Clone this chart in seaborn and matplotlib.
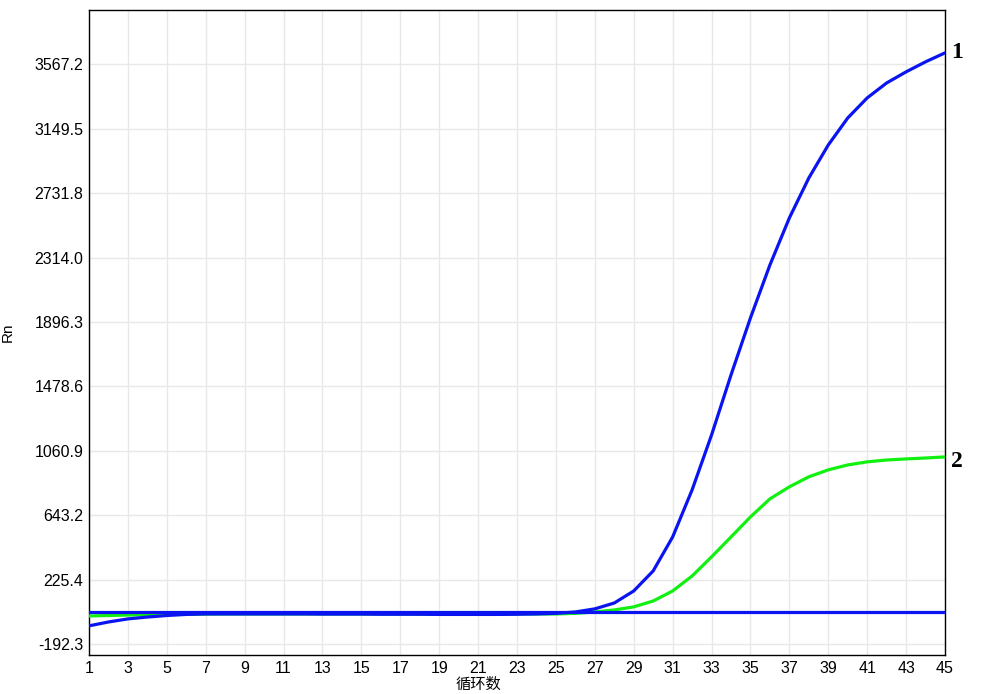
import pandas as pd
import matplotlib.pyplot as plt
import seaborn as sns

# cycles 1..45
cycles = list(range(1, 46))

# curve 1 (blue, sigmoid)
rn_curve1 = [-73, -48, -28, -16, -6, 1, 4, 4, 4, 4,
             4, 4, 3, 3, 3, 2, 2, 2, 1, 1,
             1, 1, 2, 4, 8, 17, 37, 75, 153, 283,
             503, 808, 1164, 1553, 1923, 2266, 2571, 2830, 3044, 3219,
             3349, 3446, 3518, 3583, 3641]

# curve 2 (green)
rn_curve2 = [-9, -6, -3, -1, 1, 2, 3, 4, 4, 4,
             4, 4, 4, 4, 4, 4, 4, 4, 4, 4,
             4, 4, 4, 4, 4, 8, 17, 30, 50, 88,
             153, 250, 374, 503, 633, 750, 828, 893, 938, 970,
             990, 1002, 1009, 1015, 1022]

# flat threshold line (blue)
rn_flat = [17] * 45

y_ticks = [-192.3, 225.4, 643.2, 1060.9, 1478.6, 1896.3, 2314.0, 2731.8, 3149.5, 3567.2]
x_ticks = list(range(1, 46, 2))
end_labels = ['1', '2']

df = pd.DataFrame({'cycle': cycles * 3,
                   'rn': rn_curve2 + rn_curve1 + rn_flat,
                   'curve': ['c2'] * 45 + ['c1'] * 45 + ['flat'] * 45})

sns.set_style('white')
plt.rcParams['font.family'] = ['Liberation Sans', 'Noto Sans CJK SC', 'DejaVu Sans']
plt.rcParams['text.color'] = 'black'
plt.rcParams['axes.labelcolor'] = 'black'

fig = plt.figure(figsize=(9.89, 6.94), dpi=100)
ax = fig.add_axes([0.090, 0.0562, 0.8655, 0.9294])

palette = {'c2': '#12f012', 'c1': '#0a14f0', 'flat': '#0a14f0'}
sns.lineplot(data=df, x='cycle', y='rn', hue='curve', palette=palette,
             linewidth=2.3, legend=False, ax=ax, zorder=3)

ax.set_xlim(1, 45)
ax.set_ylim(-262, 3919)
ax.set_xticks(x_ticks)
ax.set_xticklabels([str(t) for t in x_ticks])
ax.set_yticks(y_ticks)
ax.set_yticklabels(['%.1f' % t for t in y_ticks])
ax.tick_params(axis='both', labelsize=11.5, length=0, pad=4, colors='black')
ax.grid(True, color='#e8e8e8', linewidth=1)
for s in ax.spines.values():
    s.set_color('black')
    s.set_linewidth(1)

ax.set_xlabel('循环数', fontsize=11, labelpad=0)
ax.set_ylabel('Rn', fontsize=11, labelpad=14)
ax.xaxis.set_label_coords(0.455, -0.035)

# end labels at right of the curves
ax.text(45.3, rn_curve1[-1], end_labels[0], fontsize=17, fontweight='bold',
        family='Liberation Serif', va='center', ha='left', clip_on=False)
ax.text(45.3, rn_curve2[-1] - 30, end_labels[1], fontsize=17, fontweight='bold',
        family='Liberation Serif', va='center', ha='left', clip_on=False)

plt.savefig('out.png', dpi=100)
